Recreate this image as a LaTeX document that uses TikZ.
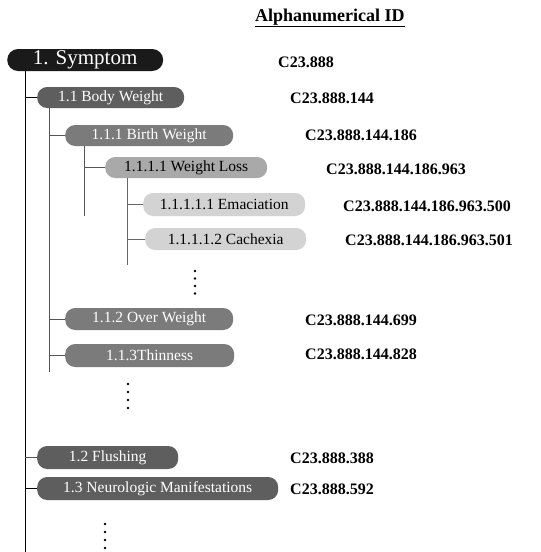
\documentclass[tikz,border=0pt]{standalone}
\usepackage{fontspec}
\setmainfont{LiberationSerif-Regular.ttf}[BoldFont=LiberationSerif-Bold.ttf]
\definecolor{c0}{HTML}{1A1A1A}
\definecolor{c1}{HTML}{5E5E5E}
\definecolor{c2}{HTML}{7B7B7B}
\definecolor{c3}{HTML}{A9A9A9}
\definecolor{c4}{HTML}{D3D3D3}
\definecolor{lnA}{HTML}{555555}
\definecolor{lnB}{HTML}{666666}
\begin{document}
\begin{tikzpicture}[x=1pt,y=-1pt,
  pill/.style={rectangle, rounded corners=10pt, inner sep=0pt, anchor=west, minimum height=22pt,
    font=\fontsize{15.5}{18}\selectfont},
  lvA/.style={pill, fill=c1, text=white},
  lvB/.style={pill, fill=c2, text=white},
  lvC/.style={pill, fill=c3, text=black},
  lvD/.style={pill, fill=c4, text=black},
  idtxt/.style={anchor=west, inner sep=0pt, font=\fontsize{16}{18}\selectfont\bfseries},
  trunk/.style={draw=black, line width=1pt},
  branchA/.style={draw=lnA, line width=1pt},
  branchB/.style={draw=lnB, line width=1pt},
  vdot/.style={fill=black, draw=none}
]
\useasboundingbox (0,0) rectangle (541,552);

\node[anchor=west, inner sep=0pt, font=\fontsize{18}{20}\selectfont\bfseries] (hdr) at (255,18) {\underline{Alphanumerical ID}};

\node[pill, fill=c0, text=white, minimum width=156pt, minimum height=22pt, rounded corners=11pt,
  font=\fontsize{21}{24}\selectfont] (sym) at (7,60) {1. Symptom};
\node[lvA, minimum width=147pt, minimum height=21pt] (bw) at (37,97.5) {1.1 Body Weight};
\node[lvB, minimum width=168pt, minimum height=21pt] (birth) at (65,135.5) {1.1.1 Birth Weight};
\node[lvC, minimum width=162pt, minimum height=21pt] (wl) at (105,167.5) {1.1.1.1 Weight Loss};
\node[lvD, minimum width=162pt, minimum height=23pt] (ema) at (143,204.5) {1.1.1.1.1 Emaciation};
\node[lvD, minimum width=161pt, minimum height=22pt] (cach) at (145,239) {1.1.1.1.2 Cachexia};
\node[lvB, minimum width=168pt, minimum height=22pt] (over) at (65,319) {1.1.2 Over Weight};
\node[lvB, minimum width=169pt, minimum height=23pt] (thin) at (65,355.5) {1.1.3Thinness};
\node[lvA, minimum width=141pt, minimum height=23pt] (flush) at (37,457.5) {1.2 Flushing};
\node[lvA, minimum width=241pt, minimum height=23pt] (neuro) at (37,488.5) {1.3 Neurologic Manifestations};

\node[idtxt] (id0) at (278,62) {C23.888};
\node[idtxt] (id1) at (290,98) {C23.888.144};
\node[idtxt] (id2) at (305,135) {C23.888.144.186};
\node[idtxt] (id3) at (326,169) {C23.888.144.186.963};
\node[idtxt] (id4) at (343,206) {C23.888.144.186.963.500};
\node[idtxt] (id5) at (345,240) {C23.888.144.186.963.501};
\node[idtxt] (id6) at (305,320) {C23.888.144.699};
\node[idtxt] (id7) at (305,354) {C23.888.144.828};
\node[idtxt] (id8) at (290,458) {C23.888.388};
\node[idtxt] (id9) at (290,489) {C23.888.592};

\coordinate (mainend) at (25,552);
\coordinate (bwend) at (49,372);
\coordinate (birthend) at (84,216);
\coordinate (wlend) at (127,265);

\path[trunk] (sym.south -| mainend) -- (mainend);
\path[trunk] (bw.west -| mainend) -- (bw.west);
\path[branchA] (flush.west -| mainend) -- (flush.west);
\path[trunk] (neuro.west -| mainend) -- (neuro.west);

\path[branchA] (bw.south -| bwend) -- (bwend);
\path[branchA] (birth.west -| bwend) -- (birth.west);
\path[branchA] (over.west -| bwend) -- (over.west);
\path[branchA] (thin.west -| bwend) -- (thin.west);

\path[branchA] (birth.south -| birthend) -- (birthend);
\path[branchA] (wl.west -| birthend) -- (wl.west);

\path[branchB] (wl.south -| wlend) -- (wlend);
\path[branchB] (ema.west -| wlend) -- (ema.west);
\path[branchB] (cach.west -| wlend) -- (cach.west);

\foreach \y in {271,278.5,286,293.5} \fill[vdot] (195,\y) circle (1.3pt);
\foreach \y in {384,392,400,408} \fill[vdot] (128,\y) circle (1.3pt);
\foreach \y in {524,532,540,548} \fill[vdot] (105,\y) circle (1.3pt);
\end{tikzpicture}
\end{document}
